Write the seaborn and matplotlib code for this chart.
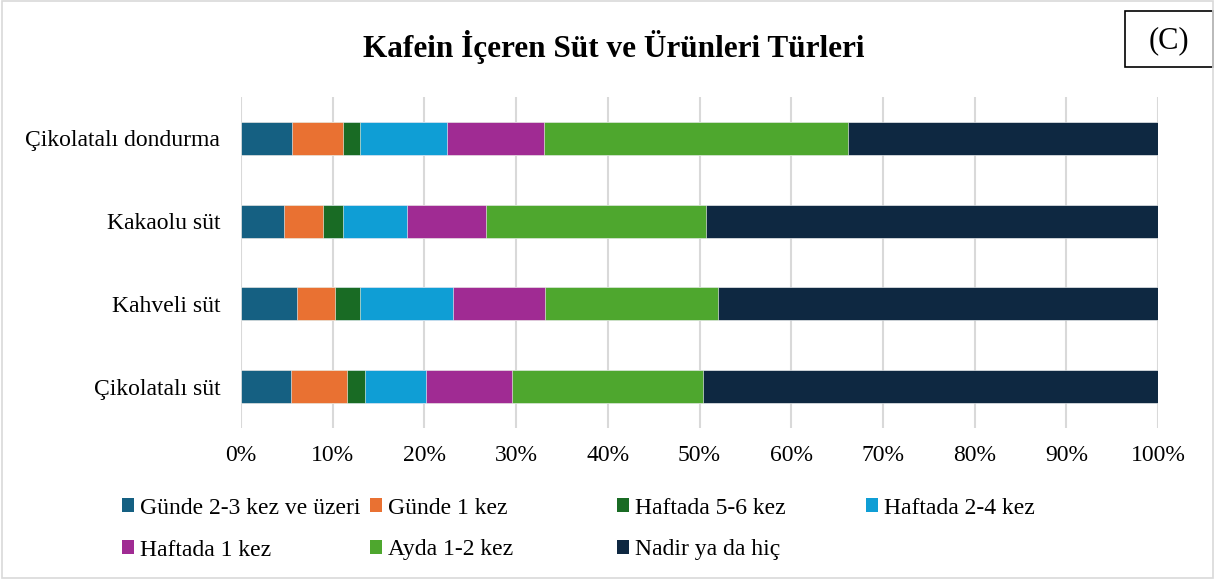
import numpy as np
import pandas as pd
import matplotlib
matplotlib.use("Agg")
import matplotlib.pyplot as plt
import seaborn as sns
from matplotlib.patches import Rectangle, Patch

# data (% of respondents)
products = ["Çikolatalı dondurma", "Kakaolu süt", "Kahveli süt", "Çikolatalı süt"]
frequencies = ["Günde 2-3 kez ve üzeri", "Günde 1 kez", "Haftada 5-6 kez",
               "Haftada 2-4 kez", "Haftada 1 kez", "Ayda 1-2 kez", "Nadir ya da hiç"]
gunde_2_3 = [5.6, 4.7, 6.1, 5.45]
gunde_1 = [5.5, 4.2, 4.2, 6.15]
haftada_5_6 = [1.9, 2.2, 2.7, 1.9]
haftada_2_4 = [9.5, 7.0, 10.1, 6.7]
haftada_1 = [10.5, 8.6, 10.0, 9.4]
ayda_1_2 = [33.2, 24.0, 18.9, 20.8]
nadir = [33.8, 49.3, 48.0, 49.6]
x_ticks = [0, 10, 20, 30, 40, 50, 60, 70, 80, 90, 100]

colors = ["#156082", "#E97132", "#196B24", "#0F9ED5", "#A02B93", "#4EA72E", "#0E2841"]

df = pd.DataFrame([gunde_2_3, gunde_1, haftada_5_6, haftada_2_4, haftada_1, ayda_1_2, nadir],
                  index=frequencies, columns=products).T
cum = df.cumsum(axis=1)

sns.set_style("white")
plt.rcParams["font.family"] = ["Liberation Serif", "DejaVu Serif"]
plt.rcParams["text.color"] = "black"
plt.rcParams["xtick.color"] = "black"
plt.rcParams["ytick.color"] = "black"

fig = plt.figure(figsize=(12.15, 5.79), dpi=100)
ax = fig.add_axes([241 / 1215, 1 - 428 / 579, (1158 - 241) / 1215, (428 - 97) / 579])

# stacked bars: draw cumulative totals from the largest down
for freq, col in reversed(list(zip(frequencies, colors))):
    d = pd.DataFrame({"product": products, "value": cum[freq].values})
    sns.barplot(data=d, y="product", x="value", order=products, color=col,
                width=0.4, orient="h", ax=ax, saturation=1,
                edgecolor="white", linewidth=0.4)

ax.set_xlim(0, 100)
ax.set_ylim(3.5, -0.5)
ax.set_xticks(x_ticks)
ax.set_xticklabels([f"{t}%" for t in x_ticks])
ax.xaxis.grid(True, color="#D9D9D9", linewidth=1.5)
ax.set_axisbelow(True)
for s in ax.spines.values():
    s.set_visible(False)
ax.tick_params(axis="x", length=0, pad=12, labelsize=17)
ax.tick_params(axis="y", length=0, pad=15, labelsize=17)
ax.set_xlabel("")
ax.set_ylabel("")

fig.text(0.505, 1 - 47 / 579, "Kafein İçeren Süt ve Ürünleri Türleri",
         ha="center", va="center", fontsize=22.5, fontweight="bold")

# (C) box
fig.patches.append(Rectangle((1125 / 1215, 1 - 67 / 579), 88 / 1215, 56 / 579,
                             transform=fig.transFigure, fill=False,
                             edgecolor="black", linewidth=1.2))
fig.text(1169 / 1215, 1 - 41 / 579, "(C)", ha="center", va="center", fontsize=22)

# outer border
fig.patches.append(Rectangle((0.002, 0.002), 0.996, 0.996, transform=fig.transFigure,
                             fill=False, edgecolor="#D9D9D9", linewidth=1.2))

# legend, row-wise with equal column spacing
col_x = [122, 370, 617, 866]
row_y = [508, 550]
for i, (freq, col) in enumerate(zip(frequencies, colors)):
    r, c = divmod(i, 4)
    fig.legend(handles=[Patch(facecolor=col, edgecolor="none")], labels=[freq],
               loc="center left", bbox_to_anchor=(col_x[c] / 1215, 1 - row_y[r] / 579),
               frameon=False, fontsize=17, handlelength=0.5, handleheight=0.5,
               handletextpad=0.25, borderpad=0, borderaxespad=0)

fig.savefig("out.png", dpi=100)
